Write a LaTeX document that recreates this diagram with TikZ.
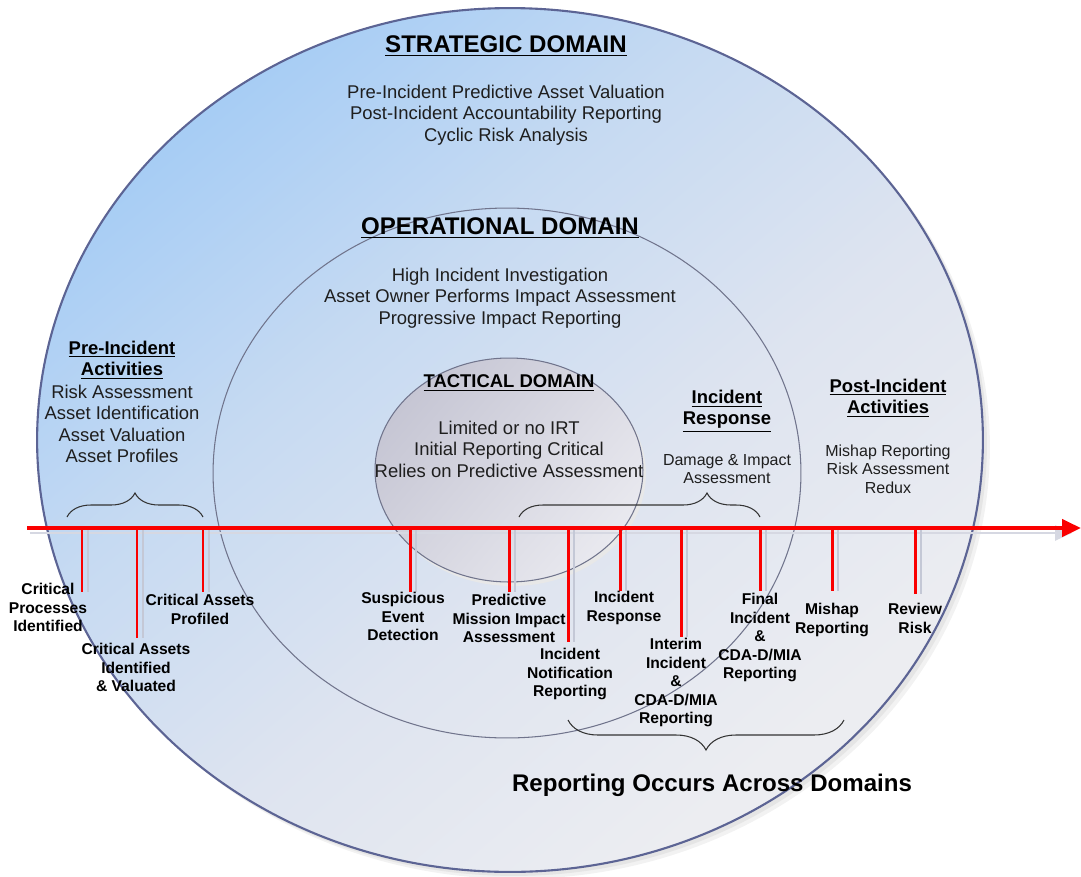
\documentclass[tikz,border=0pt]{standalone}
\usepackage{fontspec}
\setmainfont{Liberation Sans}
\usetikzlibrary{arrows.meta,decorations.pathreplacing}

\definecolor{stratblue}{RGB}{160,202,245}
\definecolor{stratlite}{RGB}{198,218,242}
\definecolor{stratmid}{RGB}{222,228,240}
\definecolor{stratgrey}{RGB}{236,237,241}
\definecolor{rimblue}{RGB}{92,100,148}
\definecolor{opgrey}{RGB}{112,116,140}
\definecolor{tacdark}{RGB}{198,198,212}
\definecolor{taclight}{RGB}{233,233,239}
\definecolor{lineRed}{RGB}{250,0,0}
\definecolor{tickshade}{RGB}{196,200,214}
\definecolor{inkgrey}{RGB}{30,30,30}

\pgfdeclareverticalshading{stratshade}{100bp}{color(0bp)=(stratgrey); color(27bp)=(stratgrey);
    color(44bp)=(stratmid); color(60bp)=(stratlite); color(78bp)=(stratblue); color(100bp)=(stratblue)}

\begin{document}
\begin{tikzpicture}[x=0.02cm, y=-0.02cm,
    domaintitle/.style={font=\fontsize{13.7}{16}\selectfont\bfseries, text=black},
    heading/.style={font=\fontsize{10.5}{12.2}\selectfont\bfseries, align=center, text=black},
    bodytext/.style={font=\fontsize{10.5}{12.2}\selectfont, align=center, text=inkgrey},
    smalltext/.style={font=\fontsize{9.1}{10.5}\selectfont, align=center, text=inkgrey},
    event/.style={font=\fontsize{8.9}{10.5}\selectfont\bfseries, align=center, anchor=north, inner sep=0pt, text=black},
    eventtick/.style={lineRed, line width=1.7pt},
    tickshadow/.style={tickshade, line width=1.4pt},
    curly/.style={decorate, draw=black!80, line width=0.6pt}]
    \useasboundingbox (0,0) rectangle (1081,876);

    % domains
    \foreach \o/\a in {7/10, 4/20} {
        \fill[gray!\a] ({510+\o},{440+\o}) ellipse [x radius=9.46cm, y radius=8.64cm];
    }
    \shade[shading=stratshade, shading angle=40]
        (510,440) ellipse [x radius=9.46cm, y radius=8.64cm];
    \draw[rimblue, line width=1.2pt] (510,440) ellipse [x radius=9.46cm, y radius=8.64cm];
    \draw[opgrey, line width=0.6pt] (507,473) ellipse [x radius=5.88cm, y radius=5.3cm];
    \fill[gray!18] (512,474) ellipse [x radius=2.68cm, y radius=2.24cm];
    \shade[top color=tacdark, bottom color=taclight, shading angle=50]
        (509,470) ellipse [x radius=2.68cm, y radius=2.24cm];
    \draw[opgrey, line width=0.6pt] (509,470) ellipse [x radius=2.68cm, y radius=2.24cm];

    \node[domaintitle] (strat) at (506,46) {\underline{STRATEGIC DOMAIN}};
    \node[bodytext] (stratlist) at (506,115) {Pre-Incident Predictive Asset Valuation\\Post-Incident Accountability Reporting\\Cyclic Risk Analysis};
    \node[domaintitle] (oper) at (500,228) {\underline{OPERATIONAL DOMAIN}};
    \node[bodytext] (operlist) at (500,298) {High Incident Investigation\\Asset Owner Performs Impact Assessment\\Progressive Impact Reporting};
    \node[heading] (tact) at (509,383) {\underline{TACTICAL DOMAIN}};
    \node[bodytext] (tactlist) at (509,449) {Limited or no IRT\\Initial Reporting Critical\\Relies on Predictive Assessment};

    % phases
    \node[heading] (pre) at (122,360) {\underline{Pre-Incident}\\\underline{Activities}};
    \node[bodytext] (prelist) at (122,424) {Risk Assessment\\Asset Identification\\Asset Valuation\\Asset Profiles};
    \node[heading] (resp) at (727,411) {\underline{Incident}\\\underline{Response}};
    \node[smalltext] (resplist) at (727,469) {Damage \& Impact\\Assessment};
    \node[heading] (post) at (888,398) {\underline{Post-Incident}\\\underline{Activities}};
    \node[smalltext] (postlist) at (888,469) {Mishap Reporting\\Risk Assessment\\Redux};

    \draw[curly, decoration={brace, amplitude=0.48cm}] (67,517) -- (203,517);
    \draw[curly, decoration={brace, amplitude=0.48cm, aspect=0.78}] (519,517) -- (760,517);

    % timeline
    \coordinate (tlstart) at (27,528);
    \coordinate (tlend) at (1081,528);
    \draw[tickshade!70, line width=1.4pt, -{Triangle[length=0.34cm,width=0.3cm]}] (30,533) -- (1072,533);
    \draw[lineRed, line width=2.5pt, -{Triangle[length=0.38cm,width=0.34cm]}] (tlstart) -- (tlend);

    \foreach \ev/\tx/\ty in {cpi/82/592, cai/137/638, cap/203/592, sed/410/592, pmi/509/592,
        inr/568/642, irs/620/591, iic/681/637, fic/760/591, mr/832/591, rr/915/594} {
        \coordinate (top-\ev) at (\tx,530);
        \coordinate (end-\ev) at (\tx,\ty);
        \draw[tickshadow] ([xshift=0.12cm]top-\ev) -- ([xshift=0.12cm]end-\ev);
        \draw[eventtick] (top-\ev) -- (end-\ev);
    }

    \node[event] (cpi) at (48,583) {Critical\\Processes\\Identified};
    \node[event] (cai) at (136,643) {Critical Assets\\Identified\\\& Valuated};
    \node[event] (cap) at (200,594) {Critical Assets\\Profiled};
    \node[event] (sed) at (403,592) {Suspicious\\Event\\Detection};
    \node[event] (pmi) at (509,594) {Predictive\\Mission Impact\\Assessment};
    \node[event] (inr) at (570,648) {Incident\\Notification\\Reporting};
    \node[event] (irs) at (624,591) {Incident\\Response};
    \node[event] (iic) at (676,638) {Interim\\Incident\\\&\\CDA-D/MIA\\Reporting};
    \node[event] (fic) at (760,593) {Final\\Incident\\\&\\CDA-D/MIA\\Reporting};
    \node[event] (mr) at (832,603) {Mishap\\Reporting};
    \node[event] (rr) at (915,603) {Review\\Risk};

    \draw[curly, decoration={brace, amplitude=0.6cm}] (844,720) -- (568,720);
    \node[domaintitle] (across) at (712,785) {Reporting Occurs Across Domains};
\end{tikzpicture}
\end{document}
